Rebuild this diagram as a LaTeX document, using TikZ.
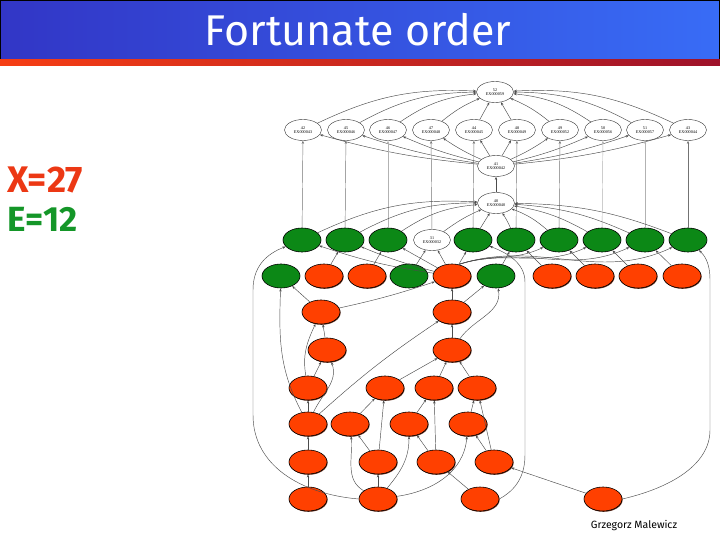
\documentclass[tikz,border=0pt]{standalone}
\usepackage{fontspec}
\setmainfont{Fira Sans}
\newfontfamily\tinyserif{Liberation Serif}
\usetikzlibrary{shapes.geometric,arrows.meta,shadows}
\definecolor{nred}{RGB}{255,64,0}
\definecolor{ngreen}{RGB}{12,136,22}
\definecolor{barL}{RGB}{50,54,198}
\definecolor{barR}{RGB}{56,108,246}
\definecolor{stripL}{RGB}{246,62,20}
\definecolor{stripR}{RGB}{158,18,42}
\definecolor{xred}{RGB}{236,56,20}
\definecolor{egreen}{RGB}{20,150,40}
\tikzset{
  ell/.style={ellipse, draw=black, line width=0.6pt, minimum width=38pt, minimum height=24pt, inner sep=0pt},
  rn/.style={ell, fill=nred, drop shadow={shadow xshift=0.6pt, shadow yshift=-0.8pt, fill=black!70!nred, opacity=0.9}},
  gn/.style={ell, fill=ngreen},
  wn/.style={ellipse, draw=black!80, fill=white, line width=0.4pt, minimum width=37pt, minimum height=21pt, inner sep=0pt, font=\tinyserif\fontsize{4.2}{4.6}\selectfont, align=center},
  ed/.style={draw=black!70, line width=0.45pt, -{Stealth[length=3.2pt,width=2.4pt]}},
  vl/.style={ed, draw=black!55},
  vll/.style={ed, draw=black!30},
}
\begin{document}
\begin{tikzpicture}[x=1pt,y=-1pt]
\useasboundingbox (0,0) rectangle (720,540);
% title bar
\shade[left color=barL, right color=barR] (0,0) rectangle (720,59);
\draw[black, line width=0.8pt] (0.4,0.4) rectangle (719.6,59);
\shade[left color=stripL, right color=stripR] (0,59.4) rectangle (720,66);
\node[text=white, font=\fontsize{43}{44}\selectfont] (title) at (358,30) {Fortunate order};
\node[text=xred, font=\bfseries\fontsize{37}{38}\selectfont, anchor=west] (xlab) at (4,180) {X=27};
\node[text=egreen, font=\bfseries\fontsize{35}{38}\selectfont, anchor=west] (elab) at (4,219) {E=12};
\node[font=\fontsize{10.5}{11}\selectfont] (auth) at (634,526) {Grzegorz Malewicz};

% white nodes
\node[wn] (n52) at (495,92) {52\\EX000059};
\node[wn] (t42) at (303,130) {42\\EX000043};
\node[wn] (t45) at (346,130) {45\\EX000046};
\node[wn] (t46) at (388,130) {46\\EX000047};
\node[wn] (t47) at (431,130) {47\\EX000048};
\node[wn] (t44) at (474,130) {44\\EX000045};
\node[wn] (t48) at (517,130) {48\\EX000049};
\node[wn] (t49) at (560,130) {49\\EX000052};
\node[wn] (t50) at (603,130) {50\\EX000056};
\node[wn] (t51) at (645,130) {51\\EX000057};
\node[wn] (t43) at (688,130) {43\\EX000044};
\node[wn] (n41) at (496,166) {41\\EX000042};
\node[wn] (n40) at (496,203) {40\\EX000040};
\node[wn] (n31) at (432,240) {31\\EX000032};

% green row
\node[gn] (g1) at (302,240) {};
\node[gn] (g2) at (345,240) {};
\node[gn] (g3) at (388,240) {};
\node[gn] (g4) at (473,240) {};
\node[gn] (g5) at (516,240) {};
\node[gn] (g6) at (559,240) {};
\node[gn] (g7) at (602,240) {};
\node[gn] (g8) at (645,240) {};
\node[gn] (g9) at (688,240) {};

% row 2
\node[gn] (a1) at (281,276) {};
\node[rn] (a2) at (324,276) {};
\node[rn] (a3) at (367,276) {};
\node[gn] (a4) at (409,276) {};
\node[rn] (a5) at (452,276) {};
\node[gn] (a6) at (496,276) {};
\node[rn] (a7) at (552,276) {};
\node[rn] (a8) at (595,276) {};
\node[rn] (a9) at (638,276) {};
\node[rn] (a10) at (682,276) {};

\node[rn] (b1) at (321,312) {};
\node[rn] (b2) at (452,312) {};
\node[rn] (c1) at (327,350) {};
\node[rn] (c2) at (452,350) {};
\node[rn] (d1) at (308,388) {};
\node[rn] (d2) at (385,388) {};
\node[rn] (d3) at (434,388) {};
\node[rn] (d4) at (477,388) {};
\node[rn] (e1) at (308,424) {};
\node[rn] (e2) at (350,424) {};
\node[rn] (e3) at (409,424) {};
\node[rn] (e4) at (468,424) {};
\node[rn] (f1) at (308,462) {};
\node[rn] (f2) at (378,462) {};
\node[rn] (f3) at (436,462) {};
\node[rn] (f4) at (494,462) {};
\node[rn] (h1) at (308,499) {};
\node[rn] (h2) at (378,499) {};
\node[rn] (h3) at (480,499) {};
\node[rn] (h4) at (603,499) {};

\coordinate (L1) at (253,415);
\coordinate (L2) at (253,290);
\coordinate (M1) at (525,455);
\coordinate (M2) at (525,282);
\coordinate (R1) at (710,430);
\coordinate (R2) at (710,280);

% top edges
\foreach \t in {t42,t45,t46} \draw[ed] (\t) to[bend left=14] (n52);
\draw[ed] (t47) to[bend left=8] (n52);
\draw[ed] (t44) -- (n52);
\draw[ed] (t48) -- (n52);
\draw[ed] (t49) to[bend right=8] (n52);
\foreach \t in {t50,t51,t43} \draw[ed] (\t) to[bend right=14] (n52);
\foreach \t in {t42,t45,t46,t47} \draw[ed] (n41) to[bend left=5] (\t);
\draw[ed] (n41) -- (t44);
\draw[ed] (n41) -- (t48);
\foreach \t in {t49,t50,t51,t43} \draw[ed] (n41) to[bend right=5] (\t);
\draw[ed] (n40) -- (n41);

% long verticals
\draw[vl] (g1) -- (t42);
\draw[vl] (g2) -- (t45);
\draw[vll] (g3) -- (t46);
\draw[vl] (n31) -- (t47);
\draw[vl] (g4) -- (t44);
\draw[vl] (g5) -- (t48);
\draw[vl] (g6) -- (t49);
\draw[vll] (g7) -- (t50);
\draw[vll] (g8) -- (t51);
\draw[vl] (g9) -- (t43);

% green row to 40
\foreach \g in {g1,g2,g3} \draw[ed] (\g) to[bend left=14] (n40);
\draw[ed] (n31) to[bend left=6] (n40);
\draw[ed] (g4) -- (n40);
\draw[ed] (g5) to[bend right=4] (n40);
\foreach \g in {g6,g7,g8,g9} \draw[ed] (\g) to[bend right=10] (n40);

% row 2 to green row
\draw[ed] (a2) -- (g2);
\draw[ed] (a3) -- (g3);
\draw[ed] (a4) -- (n31);
\draw[ed] (a7) -- (g5);
\draw[ed] (a8) -- (g6);
\draw[ed] (a9) -- (g7);
\draw[ed] (a10) -- (g8);
\draw[ed] (a5) to[bend left=5] (g1);
\draw[ed] (a5) to[bend left=4] (g2);
\draw[ed] (a5) -- (g3);
\draw[ed] (a5) -- (n31);
\draw[ed] (a5) -- (g4);
\foreach \g in {g6,g7,g8,g9} \draw[ed] (a5.60) to[out=18,in=205] (\g);
\draw[ed] (a6) -- (g5);

% middle
\draw[ed] (b1) -- (a1);
\draw[ed] (b1) to[bend right=3] (a5);
\draw[ed] (b2) -- (a5);
\draw[ed] (b2) -- (a6);
\draw[ed] (c1) -- (b1);
\draw[ed] (d1) to[out=100,in=245] (b1);
\draw[ed] (d1) -- (c1);
\draw[ed] (c2) -- (b2);
\draw[ed] (c2) to[out=55,in=-80] (a6);
\draw[ed] (e1) to[out=65,in=-70] (c1);
\draw[ed] (e1) to[bend left=4] (b2);
\draw[ed] (e1) to[out=118,in=-92] (a1);
\draw[ed] (e1) -- (d1);
\draw[ed] (d2) -- (c2);
\draw[ed] (d3) -- (c2);
\draw[ed] (d4) -- (c2);
\draw[ed] (e2) -- (d2);
\draw[ed] (f2) -- (d2);
\draw[ed] (f2) -- (e2);
\draw[ed] (e3) -- (d3);
\draw[ed] (f3) -- (d3);
\draw[ed] (f3) -- (e3);
\draw[ed] (e4) -- (d4);
\draw[ed] (f4) -- (d4);
\draw[ed] (f4) -- (e4);
\draw[ed] (f1) -- (e1);
\draw[ed] (h1) -- (f1);
\draw[ed] (h2) -- (f2);
\draw[ed] (h2) to[out=150,in=-85] (e2);
\draw[ed] (h2) to[out=50,in=-90] (e3);
\draw[ed] (h2) to[out=8,in=-95] (e4);
\draw[ed] (h3) -- (f3);
\draw[ed] (h4) -- (f4);

% long curves
\draw[ed] (h2.west) .. controls (300,494) and (253,465) .. (L1) -- (L2) .. controls (253,262) and (272,252) .. (g1);
\draw[ed] (h3.east) .. controls (512,492) and (525,480) .. (M1) -- (M2) .. controls (525,262) and (505,252) .. (g4);
\draw[ed] (h4.east) .. controls (670,488) and (710,465) .. (R1) -- (R2) .. controls (710,262) and (704,255) .. (g9);
\end{tikzpicture}
\end{document}
